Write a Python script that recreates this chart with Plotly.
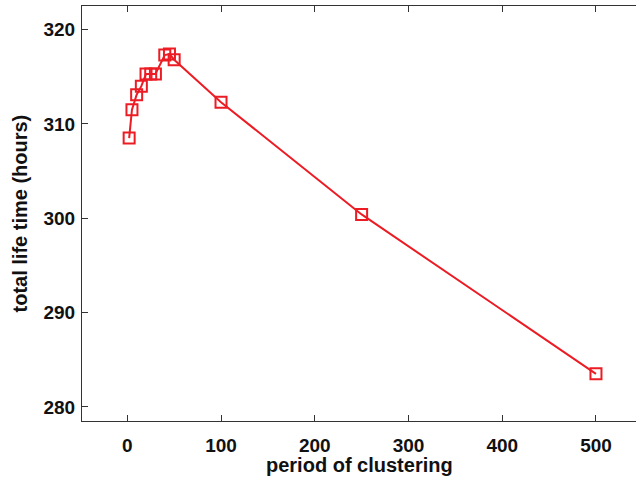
import plotly.graph_objects as go

period = [2, 5, 10, 15, 20, 25, 30, 40, 45, 50, 100, 250, 500]
life_time = [308.5, 311.5, 313.1, 314.0, 315.3, 315.3, 315.3, 317.3, 317.4, 316.8, 312.3, 300.4, 283.5]
x_ticks = [0, 100, 200, 300, 400, 500]
y_ticks = [280, 290, 300, 310, 320]

RED = "#ec1c24"
FAM = "Liberation Sans, Arial, sans-serif"

fig = go.Figure(go.Scatter(
    x=period, y=life_time, mode="lines+markers",
    line=dict(color=RED, width=2),
    marker=dict(symbol="square-open", size=11, color=RED, line=dict(width=2)),
))

tickfont = dict(size=19, family=FAM, color="#111", weight="bold")
axis_common = dict(ticks="inside", ticklen=6, tickcolor="#333", showline=True,
                   linecolor="#333", linewidth=1, showgrid=False, zeroline=False,
                   automargin=False, tickfont=tickfont)

fig.update_layout(
    width=636, height=479,
    margin=dict(l=82, r=0, t=6, b=58, pad=0),
    paper_bgcolor="white", plot_bgcolor="white",
    showlegend=False,
    xaxis=dict(range=[-48.3, 542.7], tickvals=x_ticks, mirror="ticks",
               ticklabelstandoff=7, **axis_common),
    yaxis=dict(range=[278.5, 322.5], tickvals=y_ticks, mirror=False,
               ticklabelstandoff=2, **axis_common),
    annotations=[
        dict(text="period of clustering", xref="paper", yref="paper", x=0.5, y=0,
             xanchor="center", yanchor="middle", yshift=-44, showarrow=False,
             font=dict(size=20, family=FAM, color="#111", weight="bold")),
        dict(text="total life time (hours)", xref="paper", yref="paper", x=0, y=0.5,
             xanchor="center", yanchor="middle", xshift=-63, textangle=-90, showarrow=False,
             font=dict(size=20, family=FAM, color="#111", weight="bold")),
    ],
)
fig.write_html("out.html", config={"displayModeBar": False},
               post_script="document.body.style.margin='0';document.body.style.padding='0';")
